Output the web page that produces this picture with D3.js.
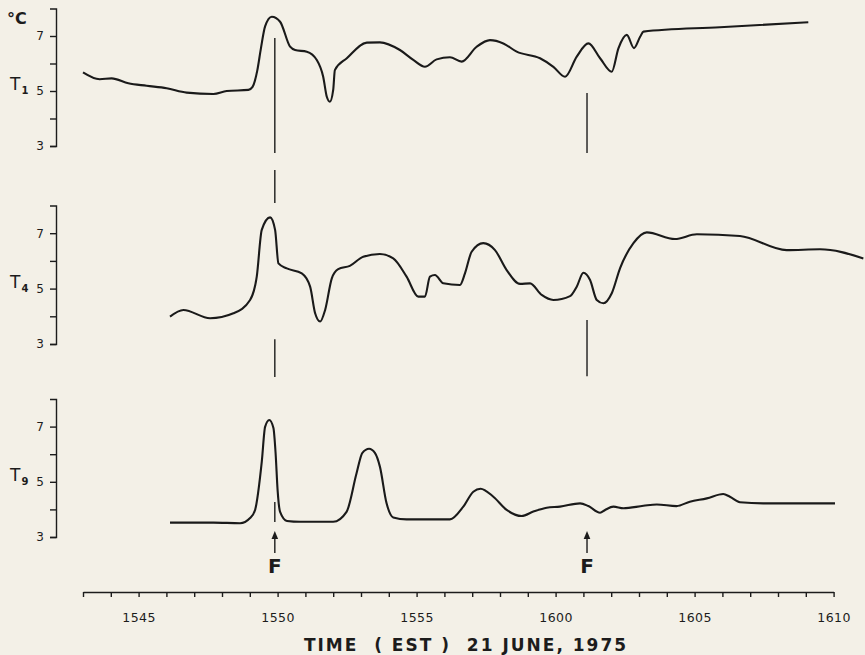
<!DOCTYPE html>
<html>
<head>
<meta charset="utf-8">
<script src="https://cdn.jsdelivr.net/npm/d3@7"></script>
<style>
  body { margin: 0; background: #f3f0e7; }
  svg { display: block; }
  text { font-family: "DejaVu Sans", sans-serif; fill: #1c1c1c; }
</style>
</head>
<body>
<script>
const width = 865, height = 655;

// time is minutes after 15:00, temperatures in deg C
const t1 = [[43.0,5.68],[43.6,5.43],[44.03,5.46],[44.63,5.28],[45.29,5.19],[46.01,5.10],[46.73,4.94],[47.69,4.89],
  [48.17,5.00],[48.95,5.04],[49.1,5.15],[49.27,5.75],[49.4,6.55],[49.55,7.35],[49.79,7.70],[50.09,7.52],[50.45,6.61],
  [50.63,6.49],[51.05,6.43],[51.41,6.13],[51.64,5.52],[51.77,4.79],[51.88,4.61],[52.0,5.04],[52.06,5.76],[52.49,6.19],
  [53.21,6.76],[53.68,6.77],[54.4,6.49],[54.88,6.13],[55.3,5.88],[55.72,6.15],[56.2,6.23],[56.62,6.07],[57.16,6.61],
  [57.64,6.85],[58.12,6.73],[58.6,6.43],[59.44,6.19],[59.92,5.88],[60.34,5.52],[60.76,6.25],[61.18,6.73],[61.6,6.19],
  [62.02,5.70],[62.26,6.55],[62.56,7.04],[62.82,6.56],[63.04,6.97],[63.16,7.16],[65.91,7.32],[69.09,7.50]];

const t4 = [[46.13,3.99],[46.61,4.23],[47.57,3.93],[48.41,4.11],[49.01,4.59],[49.25,5.43],[49.43,7.12],[49.73,7.57],
  [49.91,7.12],[50.03,5.91],[50.33,5.73],[50.87,5.55],[51.17,5.07],[51.35,4.11],[51.53,3.81],[51.71,4.23],[51.95,5.37],
  [52.18,5.70],[52.6,5.82],[53.08,6.15],[53.68,6.25],[54.16,6.09],[54.64,5.43],[55.06,4.71],[55.3,4.71],[55.48,5.43],
  [55.66,5.49],[55.96,5.19],[56.56,5.13],[56.74,5.55],[56.98,6.33],[57.4,6.64],[57.82,6.39],[58.24,5.67],[58.72,5.17],
  [59.08,5.19],[59.5,4.77],[59.92,4.59],[60.52,4.73],[60.76,5.07],[61.0,5.57],[61.24,5.31],[61.48,4.59],[61.72,4.47],
  [62.02,4.83],[62.32,5.74],[62.8,6.64],[63.28,7.03],[64.29,6.79],[65.08,6.96],[66.63,6.90],[68.31,6.39],[69.51,6.42],
  [71.07,6.09]];

const t9 = [[46.13,3.52],[47.69,3.52],[48.65,3.50],[49.01,3.69],[49.19,3.98],[49.43,5.72],[49.55,6.99],[49.7,7.24],
  [49.85,6.95],[49.93,6.0],[50.0,4.70],[50.09,3.91],[50.34,3.58],[50.81,3.55],[52.0,3.55],[52.48,3.91],[52.84,5.31],
  [53.05,6.05],[53.29,6.2],[53.5,6.05],[53.68,5.55],[53.92,4.22],[54.16,3.71],[54.64,3.64],[56.2,3.64],[56.68,4.10],[57.04,4.64],
  [57.3,4.75],[57.76,4.46],[58.24,3.98],[58.78,3.76],[59.2,3.92],[59.68,4.06],[60.16,4.10],[60.88,4.22],[61.18,4.12],
  [61.6,3.88],[61.78,3.98],[62.08,4.10],[62.44,4.04],[63.16,4.13],[63.64,4.18],[64.35,4.12],[64.83,4.28],[65.44,4.40],
  [66.03,4.56],[66.27,4.46],[66.63,4.26],[67.47,4.22],[70.05,4.22]];

const seriesNames = ["1", "4", "9"];
const yTicks = [3, 4, 5, 6, 7];
const xTicks = d3.range(43, 71);
const frontTimes = [49.9, 61.13];
// [panel, time, from T, to T]
const frontSegments = [[0,49.9,6.93,2.75],[1,49.9,9.28,8.09],[1,49.9,3.17,1.81],[2,49.9,4.27,3.54],
  [0,61.13,4.93,2.75],[1,61.13,3.87,1.84]];

const svg = d3.select("body").append("svg")
  .attr("width", width).attr("height", height);

svg.append("rect").attr("width", width).attr("height", height).attr("fill", "#f3f0e7");

const x = d3.scaleLinear().domain([43, 70]).range([83, 833.6]);

const panelBase = [146, 344, 537];
const panelStep = [27.5, 27.7, 27.6];
const ys = panelBase.map((b, i) => d3.scaleLinear().domain([3, 8]).range([b, b - 5 * panelStep[i]]));

const line = d3.line().curve(d3.curveMonotoneX);

[t1, t4, t9].forEach(function (data, i) {
  const y = ys[i];
  const g = svg.append("g");

  const ax = g.append("g")
    .attr("transform", "translate(56,0)")
    .call(d3.axisLeft(y).tickValues(yTicks).tickSize(6).tickSizeOuter(6).tickPadding(6)
      .tickFormat(d => d % 2 === 1 ? d : ""));
  ax.selectAll("path, line").attr("stroke", "#1c1c1c").attr("stroke-width", 1.4);
  ax.selectAll("text").style("font-size", "12px").attr("fill", "#1c1c1c");

  const lab = g.append("text")
    .attr("x", 10).attr("y", y(5) - 1)
    .style("font-size", "17px");
  lab.append("tspan").text("T");
  lab.append("tspan").attr("dy", 4).attr("dx", 1).style("font-size", "10px").style("font-weight", "bold").text(seriesNames[i]);

  g.append("path")
    .attr("d", line(data.map(d => [x(d[0]), y(d[1])])))
    .attr("fill", "none")
    .attr("stroke", "#1a1a1a")
    .attr("stroke-width", 2.1)
    .attr("stroke-linejoin", "round");
});

svg.append("text")
  .attr("x", 7).attr("y", 24)
  .style("font-size", "16px")
  .style("font-weight", "bold")
  .text("°C");

// front markers
svg.selectAll(".front")
  .data(frontSegments)
  .enter().append("line")
  .attr("x1", d => x(d[1])).attr("x2", d => x(d[1]))
  .attr("y1", d => ys[d[0]](d[2])).attr("y2", d => ys[d[0]](d[3]))
  .attr("stroke", "#1c1c1c").attr("stroke-width", 1.4);

const y9 = ys[2];
frontTimes.forEach(function (t) {
  const cx = x(t);
  svg.append("line")
    .attr("x1", cx).attr("x2", cx)
    .attr("y1", y9(2.42)).attr("y2", y9(3.1))
    .attr("stroke", "#1c1c1c").attr("stroke-width", 1.4);
  svg.append("path")
    .attr("d", "M" + cx + "," + y9(3.22) + "l-3.3,8h6.6z")
    .attr("fill", "#1c1c1c");
  svg.append("text")
    .attr("x", cx).attr("y", y9(1.7))
    .attr("text-anchor", "middle")
    .style("font-size", "20px")
    .style("font-weight", "bold")
    .text("F");
});

// time axis
const xa = svg.append("g")
  .attr("transform", "translate(0,592)")
  .call(d3.axisBottom(x).tickValues(xTicks).tickSize(5).tickSizeOuter(0).tickPadding(16)
    .tickFormat(d => d % 5 === 0 ? (15 + Math.floor(d / 60)) * 100 + d % 60 : ""));
xa.selectAll("path, line").attr("stroke", "#1c1c1c").attr("stroke-width", 1.4);
xa.selectAll("text").style("font-size", "12.5px").style("letter-spacing", "0.5px").attr("fill", "#1c1c1c");

svg.append("text")
  .attr("x", 466).attr("y", 651)
  .attr("text-anchor", "middle")
  .style("font-size", "17px")
  .style("letter-spacing", "2px")
  .style("font-weight", "bold")
  .style("white-space", "pre")
  .text("TIME  ( EST )  21 JUNE, 1975");
</script>
</body>
</html>
